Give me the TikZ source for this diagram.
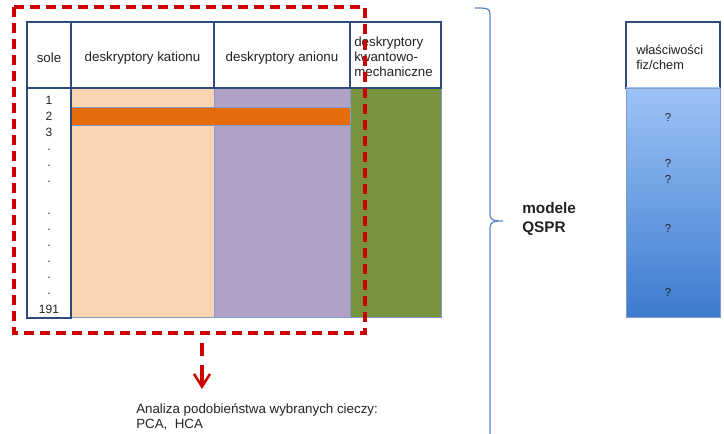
\documentclass[tikz,border=0pt]{standalone}
\usepackage{fontspec}
\setmainfont{Liberation Sans}
\usetikzlibrary{arrows.meta}
\definecolor{peach}{HTML}{FBD4B4}
\definecolor{lilac}{HTML}{B2A1C7}
\definecolor{orng}{HTML}{E46C0A}
\definecolor{olive}{HTML}{77933C}
\definecolor{hdrblue}{HTML}{2C4C7C}
\definecolor{thinblue}{HTML}{7F9CCB}
\definecolor{redd}{HTML}{CC0000}
\definecolor{braceblue}{HTML}{5B86C6}
\definecolor{gradtop}{HTML}{9DC3F8}
\definecolor{gradbot}{HTML}{3C7BCE}
\definecolor{txt}{HTML}{222222}
\tikzset{
  hdr/.style={draw=hdrblue, line width=1.3pt, fill=white},
  datacell/.style={draw=thinblue, line width=0.6pt},
  lbl/.style={inner sep=0pt, text=txt, font=\fontsize{10pt}{11.25pt}\selectfont},
  num/.style={inner sep=0pt, text=txt, font=\fontsize{9pt}{10pt}\selectfont},
  qm/.style={inner sep=0pt, text=txt, font=\fontsize{8.6pt}{9pt}\selectfont},
  reddash/.style={draw=redd, line width=2.5pt, dash pattern=on 7.5pt off 4.5pt},
}
\begin{document}
\begin{tikzpicture}[x=0.75pt,y=-0.75pt]
\useasboundingbox (0,0) rectangle (724,434);
% data area
\path[datacell, fill=peach] (71,88) rectangle (214,317);
\path[datacell, fill=lilac] (214,88) rectangle (350,317);
\path[datacell, fill=olive] (350,88) rectangle (441,317);
\path[datacell, fill=orng] (71,107) rectangle (350,125);
\path[hdr] (27,88) rectangle (71,318);
% headers
\path[hdr] (27,22) rectangle (71,88);
\path[hdr] (71,22) rectangle (214,88);
\path[hdr] (214,22) rectangle (350,88);
\path[hdr] (350,22) rectangle (441,88);
\node[lbl] (hsole) at (49,58) {sole};
\node[lbl] (hkat) at (142.5,58) {deskryptory kationu};
\node[lbl] (hani) at (282,58) {deskryptory anionu};
\node[lbl, anchor=west, align=left] (hkw) at (354,57) {deskryptory\\kwantowo-\\mechaniczne};
% sole numbers
\node[num] (n1) at (49,100) {1};
\node[num] (n2) at (49,116) {2};
\node[num] (n3) at (49,132) {3};
\foreach \yy [count=\i] in {150,166,182,214,230,246,262,278,294}
  \node[num] (d\i) at (49,\yy) {.};
\node[num] (n191) at (49,309) {191};
% right column
\path[hdr, line width=1pt] (626,22) rectangle (720,88);
\shade[top color=gradtop, bottom color=gradbot] (626,88) rectangle (720,317);
\draw[draw=thinblue, line width=0.6pt] (626,88) rectangle (720,317);
\node[lbl, anchor=west, align=left, font=\fontsize{9.6pt}{11.25pt}\selectfont] (wl) at (636,57) {właściwości\\fiz/chem};
\node[qm] (q1) at (668,117) {?};
\node[qm] (q2) at (668,163) {?};
\node[qm] (q3) at (668,179) {?};
\node[qm] (q4) at (668,228) {?};
\node[qm] (q5) at (668,292) {?};
% brace
\draw[braceblue, line width=0.9pt] (475,8) .. controls (486,8) and (490,8) .. (490,14) -- (490,214)
  .. controls (490,220) and (493,221) .. (503,221)
  .. controls (493,221) and (490,222) .. (490,228) -- (490,436);
\node[inner sep=0pt, anchor=west, align=left, text=txt, font=\bfseries\fontsize{11.5pt}{14.5pt}\selectfont] (qspr) at (522,219) {modele\\QSPR};
% red dashed frame
\draw[reddash] (14,7) rectangle (365,333);
% analysis text
\node[inner sep=0pt, anchor=west, align=left, text=txt, font=\fontsize{10pt}{10.8pt}\selectfont] (an) at (136,417) {Analiza podobieństwa wybranych cieczy:\\PCA,\ \ HCA};
\coordinate (ast) at (202,343);
\coordinate (amid) at (202,365);
\coordinate (aend) at (202,389);
\draw[redd, line width=2.5pt] (ast) -- (202,356);
\draw[redd, line width=2.5pt, -{Straight Barb[length=9.5pt,width=12pt,line width=1.9pt]}] (amid) -- (aend);
\end{tikzpicture}
\end{document}
